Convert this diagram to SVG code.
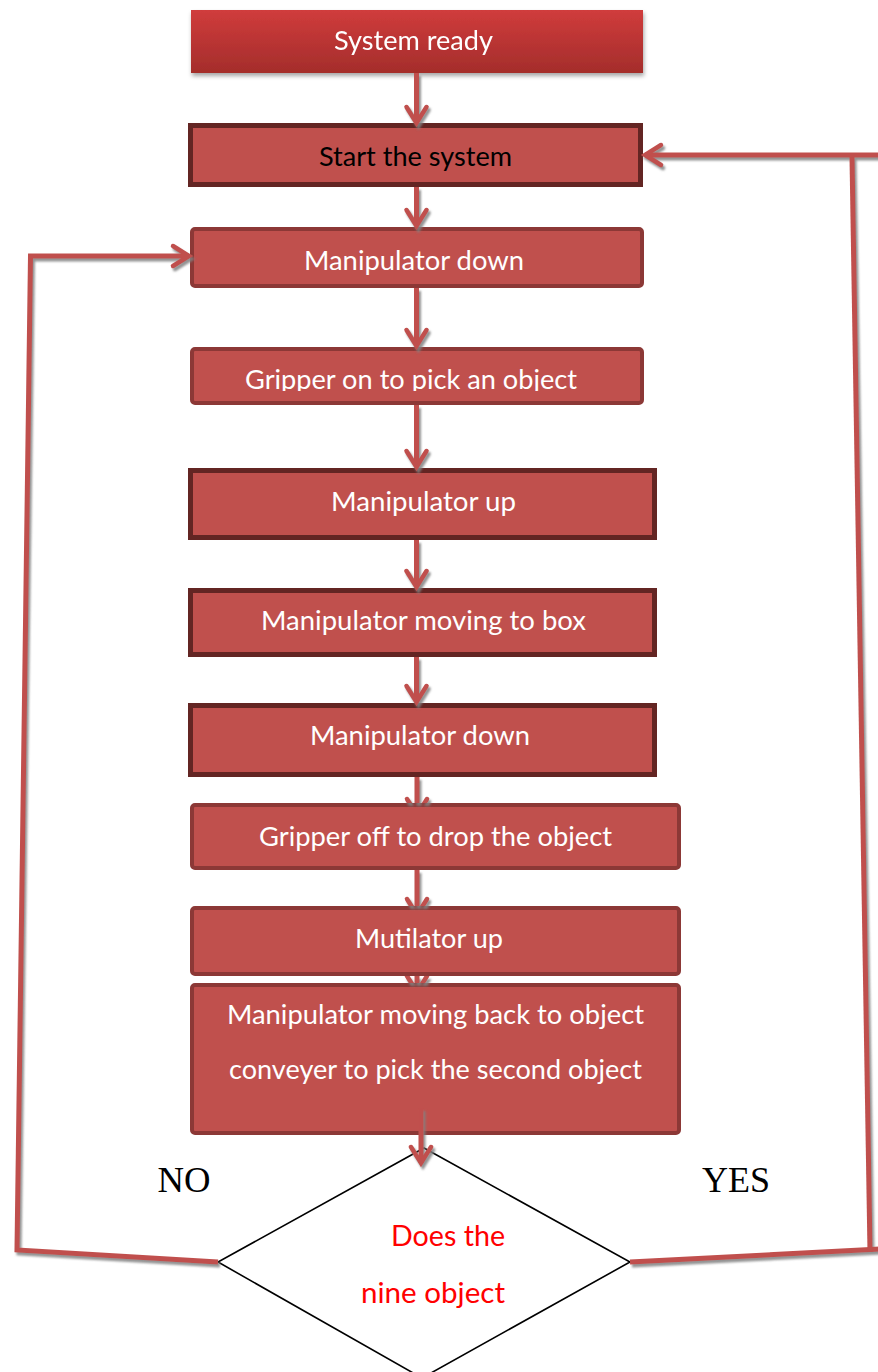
<svg xmlns="http://www.w3.org/2000/svg" width="878" height="1372" viewBox="0 0 878 1372">
  <defs>
    <linearGradient id="gradReady" x1="0" y1="0" x2="0" y2="1">
      <stop offset="0" stop-color="#d03c3c"/>
      <stop offset="1" stop-color="#a42d2b"/>
    </linearGradient>
    <filter id="boxShadow" x="-5%" y="-20%" width="110%" height="150%">
      <feDropShadow dx="1" dy="3" stdDeviation="2" flood-color="#000" flood-opacity="0.35"/>
    </filter>
    <filter id="lineShadow" x="-10%" y="-10%" width="120%" height="120%">
      <feDropShadow dx="2" dy="3" stdDeviation="0.8" flood-color="#808080" flood-opacity="0.85"/>
    </filter>
    <marker id="chevron" markerUnits="userSpaceOnUse" viewBox="-20 -14 24 28" refX="0" refY="0" markerWidth="24" markerHeight="28" orient="auto" overflow="visible">
      <path d="M-16,-10 L0,0 L-16,10" fill="none" stroke="#c0504d" stroke-width="4.5" stroke-linecap="round" stroke-linejoin="miter"/>
    </marker>
    <clipPath id="gapClip">
      <rect x="0" y="777" width="878" height="26"/>
      <rect x="0" y="870" width="878" height="36"/>
      <rect x="0" y="976" width="878" height="7"/>
    </clipPath>
    <clipPath id="clipGripperOn">
      <rect x="192" y="349" width="450" height="42"/>
    </clipPath>
    <style>
      .dark { fill: #c0504d; stroke: #632523; stroke-width: 5; }
      .mid { fill: #c0504d; stroke: #8c3836; stroke-width: 4; }
      .lbl { font-family: Lato, "Open Sans", "Liberation Sans", sans-serif; font-size: 26.5px; fill: #ffffff; text-anchor: middle; }
      .blk { fill: #000000; }
      .conn { fill: none; stroke: #c0504d; stroke-width: 5; stroke-linecap: butt; }
      .yn { font-family: "Liberation Serif", "Times New Roman", serif; font-size: 36px; fill: #000000; text-anchor: middle; }
      .q { font-family: Lato, "Open Sans", "Liberation Sans", sans-serif; font-size: 28px; fill: #ff0000; text-anchor: end; }
    </style>
  </defs>

  <rect width="878" height="1372" fill="#ffffff"/>

  <!-- process steps -->
  <g id="node-system-ready" filter="url(#boxShadow)">
    <rect x="191" y="10" width="452" height="63" fill="url(#gradReady)"/>
    <text class="lbl" x="413.5" y="50" textLength="159" lengthAdjust="spacingAndGlyphs">System ready</text>
  </g>
  <g id="node-start">
    <rect class="dark" x="190.5" y="125.5" width="450" height="59"/>
    <text class="lbl blk" x="415.5" y="166" textLength="193" lengthAdjust="spacingAndGlyphs">Start the system</text>
  </g>
  <g id="node-down-1">
    <rect class="mid" x="192" y="229" width="450" height="57" rx="3"/>
    <text class="lbl" x="414" y="270" textLength="220" lengthAdjust="spacingAndGlyphs">Manipulator down</text>
  </g>
  <g id="node-gripper-on">
    <rect class="mid" x="192" y="349" width="450" height="54" rx="3"/>
    <text class="lbl" x="411" y="389" textLength="332" lengthAdjust="spacingAndGlyphs" clip-path="url(#clipGripperOn)">Gripper on to pick an object</text>
  </g>
  <g id="node-up-1">
    <rect class="dark" x="190.5" y="470.5" width="464" height="67"/>
    <text class="lbl" x="423.5" y="511" textLength="185" lengthAdjust="spacingAndGlyphs">Manipulator up</text>
  </g>
  <g id="node-to-box">
    <rect class="dark" x="190.5" y="590.5" width="464" height="64"/>
    <text class="lbl" x="423.5" y="630" textLength="325" lengthAdjust="spacingAndGlyphs">Manipulator moving to box</text>
  </g>
  <g id="node-down-2">
    <rect class="dark" x="190.5" y="705.5" width="464" height="69"/>
    <text class="lbl" x="420" y="745" textLength="220" lengthAdjust="spacingAndGlyphs">Manipulator down</text>
  </g>
  <g id="node-gripper-off">
    <rect class="mid" x="192" y="805" width="487" height="63" rx="3"/>
    <text class="lbl" x="435.5" y="846" textLength="353" lengthAdjust="spacingAndGlyphs">Gripper off to drop the object</text>
  </g>
  <g id="node-up-2">
    <rect class="mid" x="192" y="908" width="487" height="66" rx="3"/>
    <text class="lbl" x="429" y="948" textLength="148" lengthAdjust="spacingAndGlyphs">Mutilator up</text>
  </g>
  <g id="node-move-back">
    <rect class="mid" x="192" y="985" width="487" height="148" rx="3"/>
    <text class="lbl" x="435.5" y="1024" textLength="417" lengthAdjust="spacingAndGlyphs">Manipulator moving back to object</text>
    <text class="lbl" x="435.5" y="1079" textLength="413" lengthAdjust="spacingAndGlyphs">conveyer to pick the second object</text>
  </g>

  <!-- decision -->
  <g id="node-decision">
    <polygon points="424,1148 630,1262 422,1378 218,1262" fill="#ffffff" stroke="#000000" stroke-width="1.6"/>
    <text class="q" x="505" y="1246" textLength="114" lengthAdjust="spacingAndGlyphs">Does the</text>
    <text class="q" x="505" y="1303" textLength="144" lengthAdjust="spacingAndGlyphs">nine object</text>
  </g>

  <g id="branch-labels">
    <text class="yn" x="184" y="1192" textLength="53" lengthAdjust="spacingAndGlyphs">NO</text>
    <text class="yn" x="736" y="1192" textLength="68" lengthAdjust="spacingAndGlyphs">YES</text>
  </g>

  <!-- connectors -->
  <g id="connectors" filter="url(#lineShadow)">
    <path class="conn" d="M416.5,73 L416.5,123" marker-end="url(#chevron)"/>
    <path class="conn" d="M416.5,187 L416.5,226" marker-end="url(#chevron)"/>
    <path class="conn" d="M416.5,288 L416.5,346" marker-end="url(#chevron)"/>
    <path class="conn" d="M416.5,405 L416.5,467" marker-end="url(#chevron)"/>
    <path class="conn" d="M416.5,540 L416.5,587" marker-end="url(#chevron)"/>
    <path class="conn" d="M416.5,657 L416.5,702" marker-end="url(#chevron)"/>
    <g clip-path="url(#gapClip)">
      <path class="conn" d="M417,777 L417,815" marker-end="url(#chevron)"/>
      <path class="conn" d="M417,870 L417,915" marker-end="url(#chevron)"/>
      <path class="conn" d="M417,976 L417,992" marker-end="url(#chevron)"/>
    </g>
    <path class="conn" d="M421,1108 L421,1163" marker-end="url(#chevron)"/>
    <!-- NO: back to the first "Manipulator down" -->
    <path class="conn" d="M218,1262 L17,1250 L30.5,256 L189,256" stroke-linejoin="miter" marker-end="url(#chevron)"/>
    <!-- YES: back to "Start the system" -->
    <path class="conn" d="M630,1262 L880,1249"/>
    <path class="conn" d="M852,157 L870,1252"/>
    <path class="conn" d="M880,155 L645,155" marker-end="url(#chevron)"/>
  </g>
</svg>
